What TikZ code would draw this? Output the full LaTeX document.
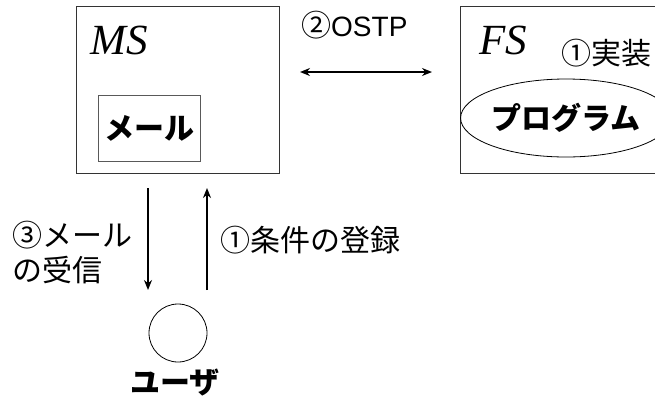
\documentclass[tikz,border=0pt]{standalone}
\usepackage{fontspec}
\setmainfont{Liberation Sans}
\newfontfamily\jp{Noto Sans CJK JP}
\newfontfamily\jpb{Noto Sans CJK JP Black}
\newfontfamily\tms{Liberation Serif}
\usetikzlibrary{shapes.geometric,arrows.meta}
\begin{document}
\begin{tikzpicture}[x=1pt,y=-1pt,
  box/.style={draw=black!80,line width=1pt,rectangle,inner sep=0pt},
  arr/.style={line width=2.6pt,-{Stealth[length=10pt,width=8pt]}},
  lbl/.style={font=\fontsize{30}{35}\selectfont\jp,inner sep=0pt,anchor=west,align=left},
  blbl/.style={font=\fontsize{30}{35}\selectfont\jpb,inner sep=0pt},
  srv/.style={font=\fontsize{43}{43}\selectfont\tms\itshape,inner sep=0pt}]
\useasboundingbox (0,0) rectangle (655,400);
% MS box
\node[box,minimum width=203pt,minimum height=167pt] (ms) at (177.5,89.5) {};
\node[srv] (mst) at (119,40) {MS};
\node[box,draw=black!65,minimum width=102pt,minimum height=66pt,blbl] (mail) at (149,128) {メール};
% FS box (clipped at right)
\coordinate (fsa) at (656,6);
\coordinate (fsb) at (656,173);
\draw[black!80,line width=1pt] (fsa) -- (460,6) -- (460,173) -- (fsb);
\node[srv] (fst) at (503,40) {FS};
\node[lbl] (impl) at (561,53) {①実装};
\node[draw,ellipse,line width=0.8pt,minimum width=168pt,minimum height=78pt,inner sep=0pt,blbl] (prog) at (566,118) {プログラム};
% OSTP arrow
\coordinate (o1) at (300,72);
\coordinate (o2) at (432,72);
\draw[line width=2.6pt,{Stealth[length=10pt,width=8pt]}-{Stealth[length=10pt,width=8pt]}] (o1) -- (o2);
\node[lbl] (ostp) at (301,25) {②{\fontspec{Liberation Sans}\fontsize{28}{30}\selectfont OSTP}};
% user
\node[draw,circle,line width=0.8pt,minimum size=58pt,inner sep=0pt] (user) at (178,333) {};
\node[blbl] (ut) at (175,383) {ユーザ};
% vertical arrows
\coordinate (d1) at (148,188);
\coordinate (d2) at (148,290);
\coordinate (u1) at (207,290);
\coordinate (u2) at (207,188);
\draw[arr] (d1) -- (d2);
\draw[arr] (u1) -- (u2);
\node[lbl] (recv) at (12,253) {③メール\\の受信};
\node[lbl] (reg) at (220,240) {①条件の登録};
\end{tikzpicture}
\end{document}
